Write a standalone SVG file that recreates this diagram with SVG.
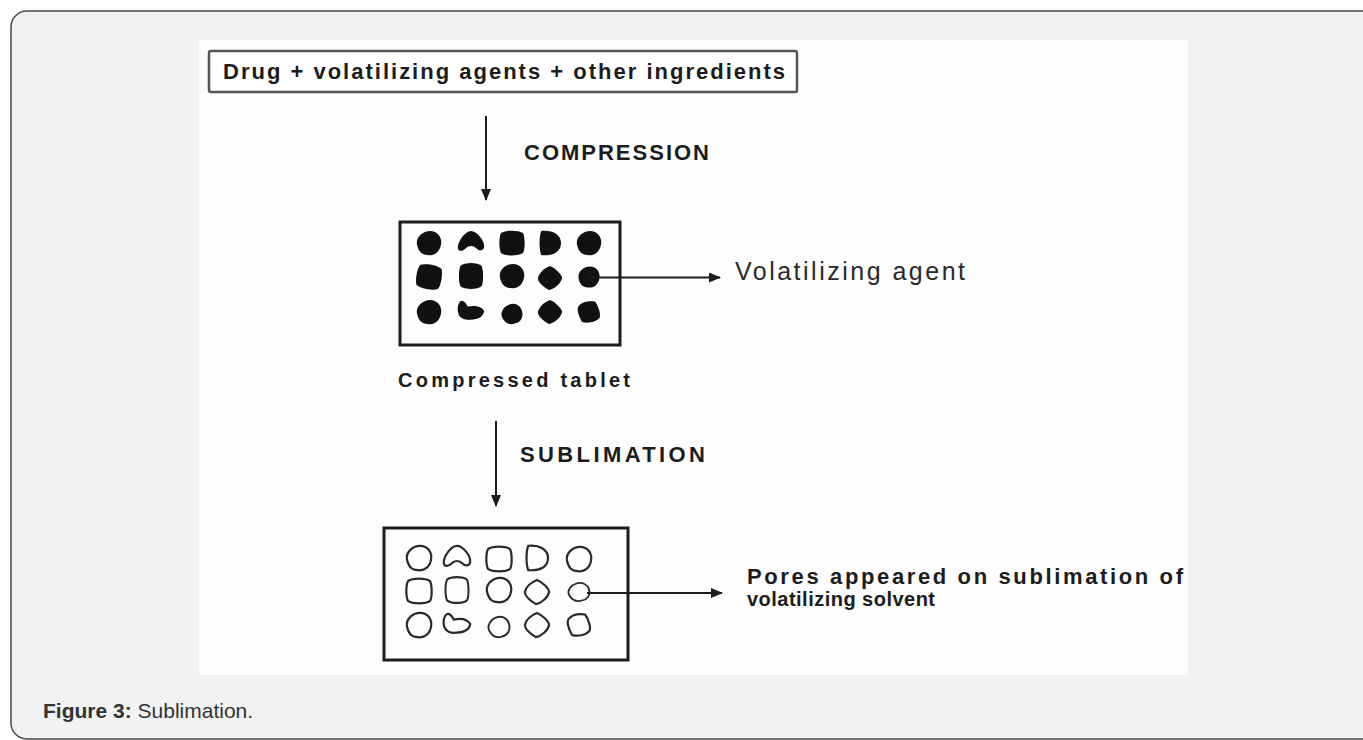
<svg xmlns="http://www.w3.org/2000/svg" xmlns:xlink="http://www.w3.org/1999/xlink" width="1363" height="740" viewBox="0 0 1363 740">
<style>
.lbl{font-family:"Liberation Sans",Arial,sans-serif;font-weight:bold;fill:#1c1c1c}
.reg{font-family:"Liberation Sans",Arial,sans-serif;fill:#2a2a2a}
.line{stroke:#1c1c1c;stroke-width:2;fill:none}
.box{fill:none;stroke:#1c1c1c;stroke-width:3}
.dot{fill:#111}
.pore{fill:none;stroke:#2a2a2a;stroke-width:2}
.cap{font-family:"Liberation Sans",Arial,sans-serif;font-size:21px;fill:#333}
</style>
<defs>
<marker id="ah" markerWidth="12" markerHeight="10" refX="11" refY="5" orient="auto" markerUnits="userSpaceOnUse">
<path d="M0,0 L12,5 L0,10 Z" fill="#1c1c1c"/>
</marker>
<path id="sRound" d="M-11,1 C-12,-6 -5,-11 1,-11 C8,-11 12,-5 11,1 C10,8 5,12 -1,11 C-7,11 -10,7 -11,1 Z"/>
<path id="sArch" d="M-12,4 C-12,-2 -5,-11 0,-11 C5,-11 12,-3 12,3 C12,7 8,8 5,5 C2,2 -2,2 -5,5 C-8,8 -12,8 -12,4 Z"/>
<path id="sSquare" d="M-10,-9 C-6,-12 6,-12 10,-9 C12,-5 12,6 10,9 C6,12 -6,12 -10,9 C-12,5 -12,-5 -10,-9 Z"/>
<path id="sD" d="M-8,-11 C2,-12 10,-8 10,0 C10,8 3,12 -8,11 C-10,6 -10,-6 -8,-11 Z"/>
<path id="sDiamond" d="M0,-11 C5,-9 11,-3 11,0 C10,5 4,10 -1,11 C-6,8 -11,4 -11,0 C-10,-5 -5,-9 0,-11 Z"/>
<path id="sFlat" d="M-12,-4 C-10,-12 -6,-10 -3,-4 C2,-5 9,-5 12,0 C11,7 4,8 -3,8 C-9,8 -13,4 -12,-4 Z"/>
</defs>

<rect id="card" x="11" y="11" width="1380" height="728" rx="16" fill="#f1f2f4" stroke="#4a4a4a" stroke-width="1.5"/>
<rect id="panel" x="199" y="40" width="989" height="635" fill="#fdfdfd"/>

<g id="node-ingredients">
<rect x="209" y="51" width="588" height="41" rx="2" fill="#fff" stroke="#555" stroke-width="2.5"/>
<text class="lbl" x="223" y="79" font-size="22" textLength="562" lengthAdjust="spacing">Drug + volatilizing agents + other ingredients</text>
</g>

<g id="label-compression">
<text class="lbl" x="524" y="160" font-size="22" textLength="185" lengthAdjust="spacing">COMPRESSION</text>
</g>

<g id="node-compressed-tablet">
<rect class="box" x="400" y="222" width="220" height="123"/>
<g class="dot">
<use xlink:href="#sRound" transform="translate(429,243) scale(1.1)"/>
<use xlink:href="#sArch" transform="translate(471,243) scale(1.1)"/>
<use xlink:href="#sSquare" transform="translate(512,243) scale(1.1)"/>
<use xlink:href="#sD" transform="translate(550,243) scale(1.1)"/>
<use xlink:href="#sRound" transform="translate(589,243) scale(1.1)"/>
<use xlink:href="#sSquare" transform="translate(429,277) rotate(10) scale(1.1)"/>
<use xlink:href="#sSquare" transform="translate(471,276) scale(1.05,1.15)"/>
<use xlink:href="#sRound" transform="translate(512,276) scale(1.1)"/>
<use xlink:href="#sDiamond" transform="translate(550,278) scale(1.1)"/>
<use xlink:href="#sRound" transform="translate(589,277) scale(0.95)"/>
<use xlink:href="#sRound" transform="translate(429,312) scale(1.1)"/>
<use xlink:href="#sFlat" transform="translate(471,311) scale(1.1)"/>
<use xlink:href="#sRound" transform="translate(512,314) scale(0.95,0.9) rotate(-20)"/>
<use xlink:href="#sDiamond" transform="translate(550,312) scale(1.1)"/>
<use xlink:href="#sDiamond" transform="translate(589,312) rotate(30) scale(1.1)"/>
</g>
<text class="lbl" x="398" y="387" font-size="20" textLength="232" lengthAdjust="spacing">Compressed tablet</text>
</g>

<g id="label-volatilizing-agent">
<text class="reg" x="735" y="280" font-size="25" textLength="230" lengthAdjust="spacing">Volatilizing agent</text>
</g>

<g id="label-sublimation">
<text class="lbl" x="520" y="462" font-size="22" textLength="185" lengthAdjust="spacing">SUBLIMATION</text>
</g>

<g id="node-porous-tablet">
<rect class="box" x="384" y="528" width="244" height="132"/>
<g class="pore">
<use xlink:href="#sRound" transform="translate(419,558) scale(1.1)"/>
<use xlink:href="#sArch" transform="translate(457,558) scale(1.1)"/>
<use xlink:href="#sSquare" transform="translate(499,559) scale(1.1)"/>
<use xlink:href="#sD" transform="translate(537,558) scale(1.1)"/>
<use xlink:href="#sRound" transform="translate(579,559) scale(1.1)"/>
<use xlink:href="#sSquare" transform="translate(419,591) scale(1.1)"/>
<use xlink:href="#sSquare" transform="translate(457,590) scale(1,1.15)"/>
<use xlink:href="#sRound" transform="translate(499,590) scale(1.1)"/>
<use xlink:href="#sDiamond" transform="translate(537,592) scale(1.1)"/>
<use xlink:href="#sRound" transform="translate(579,592) scale(0.95,0.8) rotate(-20)"/>
<use xlink:href="#sRound" transform="translate(419,625) scale(1.1)"/>
<use xlink:href="#sFlat" transform="translate(457,624) scale(1.1)"/>
<use xlink:href="#sRound" transform="translate(499,627) scale(0.95,0.9) rotate(-20)"/>
<use xlink:href="#sDiamond" transform="translate(537,625) scale(1.1)"/>
<use xlink:href="#sDiamond" transform="translate(579,625) rotate(30) scale(1.1)"/>
</g>
</g>

<g id="label-pores">
<text class="lbl" x="747" y="584" font-size="22" textLength="436" lengthAdjust="spacing">Pores appeared on sublimation of</text>
<text class="lbl" x="747" y="606" font-size="20" textLength="188" lengthAdjust="spacing">volatilizing solvent</text>
</g>

<g id="connectors">
<line class="line" x1="589" y1="277.5" x2="720" y2="277.5" marker-end="url(#ah)"/>
<line class="line" x1="486" y1="116" x2="486" y2="200" marker-end="url(#ah)"/>
<line class="line" x1="496" y1="421" x2="496" y2="506" marker-end="url(#ah)"/>
<line class="line" x1="587" y1="593" x2="722" y2="593" marker-end="url(#ah)"/>
</g>

<g id="caption">
<text class="cap" x="43" y="718"><tspan font-weight="bold">Figure 3:</tspan> Sublimation.</text>
</g>
</svg>
